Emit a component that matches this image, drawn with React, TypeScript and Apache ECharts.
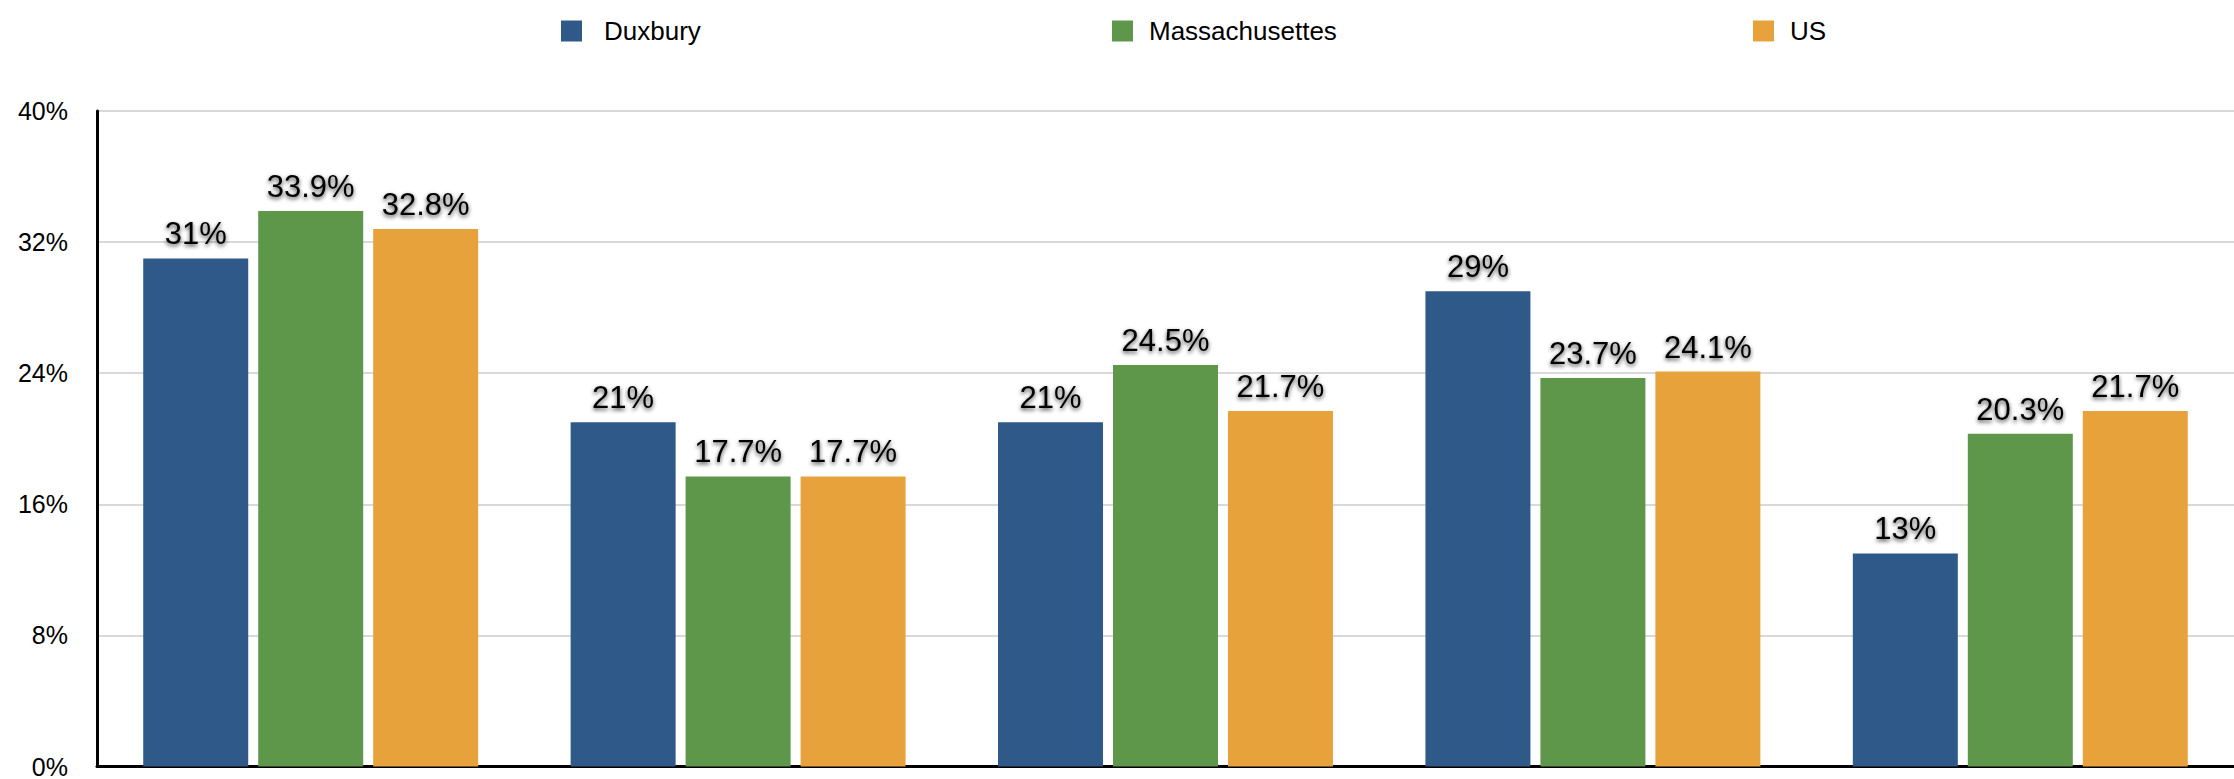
import React, { useEffect, useRef } from "react";
import * as echarts from "echarts";

const categories = ["A", "B", "C", "D", "E"];
const duxbury = [31, 21, 21, 29, 13];
const massachusetts = [33.9, 17.7, 24.5, 23.7, 20.3];
const us = [32.8, 17.7, 21.7, 24.1, 21.7];
const seriesNames = ["Duxbury", "Massachusettes", "US"];
const colors = ["#2e5989", "#5e964a", "#e7a23c"];

const FONT = "'Liberation Sans', Arial, Helvetica, sans-serif";

export default function App() {
  const ref = useRef<HTMLDivElement>(null);
  useEffect(() => {
    document.body.style.margin = "0";
    if (!ref.current) return;
    const chart = echarts.init(ref.current, undefined, { renderer: "svg" });
    const label = {
      show: true,
      position: "top",
      distance: 9,
      formatter: (p: any) => `${p.value}%`,
      fontSize: 31,
      fontFamily: FONT,
      color: "#000",
      textShadowColor: "rgba(0,0,0,0.75)",
      textShadowBlur: 4,
      textShadowOffsetY: 2,
    };
    const legendBase = (name: string, left: number, pad: number) => ({
      data: [name],
      left,
      top: 13,
      orient: "horizontal",
      icon: "rect",
      itemWidth: 21,
      itemHeight: 21,
      selectedMode: false,
      textStyle: {
        fontSize: 26,
        fontFamily: FONT,
        color: "#000",
        padding: [0, 0, 0, pad],
      },
    });
    const data = [duxbury, massachusetts, us];
    chart.setOption({
      animation: false,
      color: colors,
      legend: [
        legendBase(seriesNames[0], 556, 17),
        legendBase(seriesNames[1], 1107, 11),
        legendBase(seriesNames[2], 1748, 11),
      ],
      grid: { left: 97, right: 0, top: 111, bottom: 12 },
      xAxis: {
        type: "category",
        data: categories,
        axisLine: { show: true, lineStyle: { color: "#000", width: 3 } },
        axisTick: { show: false },
        axisLabel: { show: false },
        splitLine: { show: false },
      },
      yAxis: {
        type: "value",
        min: 0,
        max: 40,
        interval: 8,
        axisLine: { show: true, lineStyle: { color: "#000", width: 3 } },
        axisTick: { show: false },
        axisLabel: {
          formatter: "{value}%",
          fontSize: 25,
          fontFamily: FONT,
          color: "#000",
          margin: 29,
        },
        splitLine: { show: true, lineStyle: { color: "#cccccc", width: 1.5 } },
      },
      series: seriesNames.map((name, i) => ({
        name,
        type: "bar",
        data: data[i],
        barWidth: 105,
        barGap: "9.5%",
        itemStyle: { color: colors[i] },
        label,
      })),
    });
    return () => chart.dispose();
  }, []);
  return <div ref={ref} style={{ width: 2234, height: 779 }} />;
}
